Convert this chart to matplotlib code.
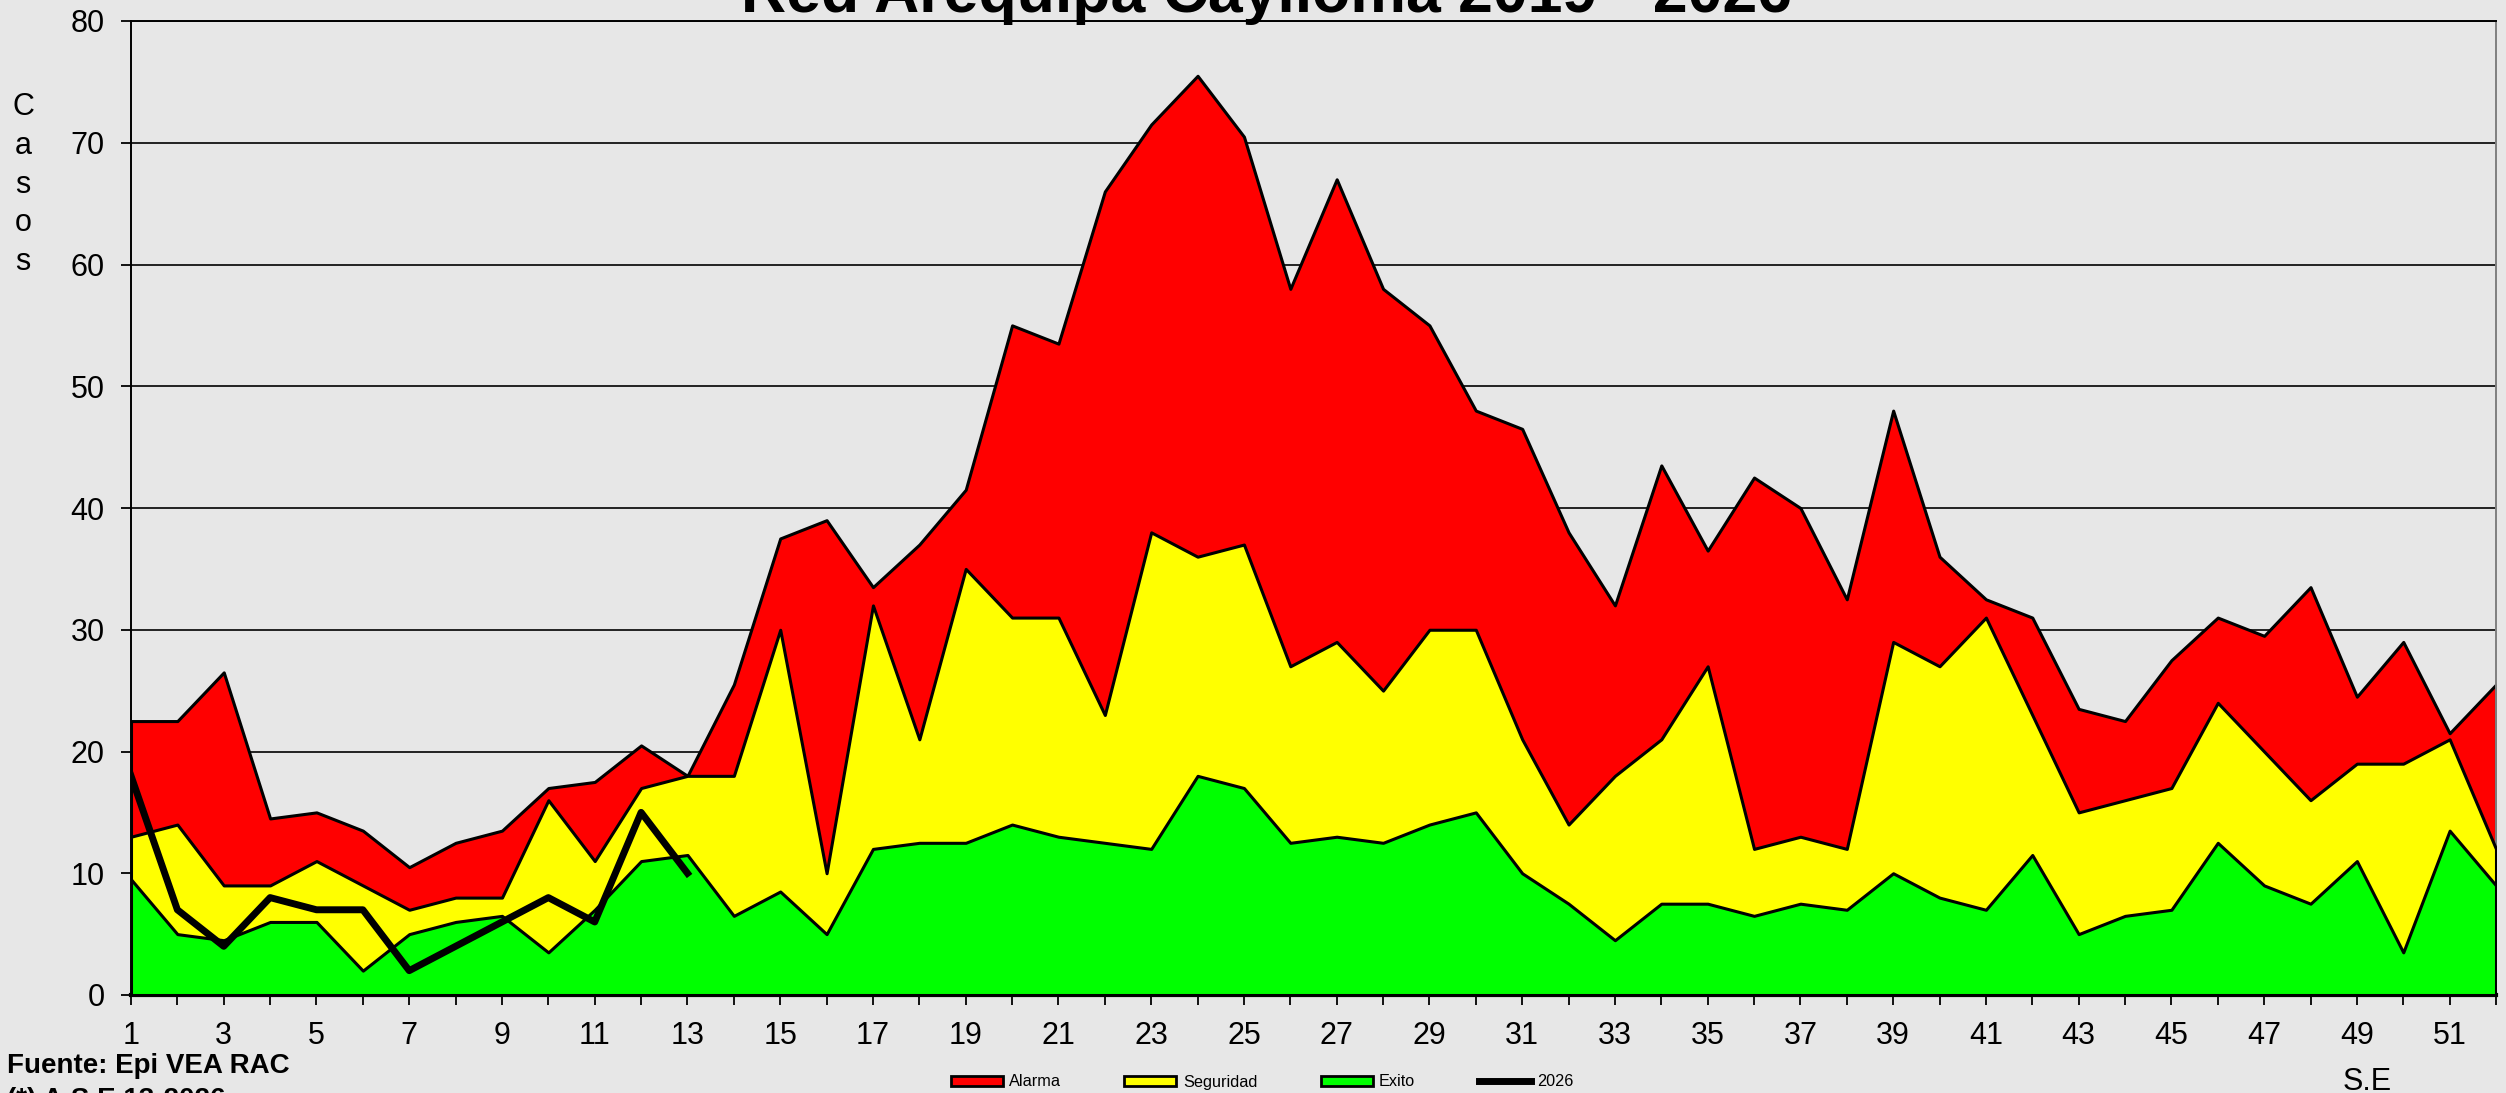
import matplotlib
matplotlib.use("Agg")
import matplotlib.pyplot as plt
from matplotlib.patches import Patch
from matplotlib.lines import Line2D

# epidemiological weeks
weeks = list(range(1, 53))

# corridor limits (2019 - 2025)
alarma = [22.5, 22.5, 26.5, 14.5, 15, 13.5, 10.5, 12.5, 13.5, 17, 17.5, 20.5, 18,
          25.5, 37.5, 39, 33.5, 37, 41.5, 55, 53.5, 66, 71.5, 75.5, 70.5, 58,
          67, 58, 55, 48, 46.5, 38, 32, 43.5, 36.5, 42.5, 40, 32.5, 48, 36,
          32.5, 31, 23.5, 22.5, 27.5, 31, 29.5, 33.5, 24.5, 29, 21.5, 25.5]
seguridad = [13, 14, 9, 9, 11, 9, 7, 8, 8, 16, 11, 17, 18,
             18, 30, 10, 32, 21, 35, 31, 31, 23, 38, 36, 37, 27,
             29, 25, 30, 30, 21, 14, 18, 21, 27, 12, 13, 12, 29, 27,
             31, 23, 15, 16, 17, 24, 20, 16, 19, 19, 21, 12]
exito = [9.5, 5, 4.5, 6, 6, 2, 5, 6, 6.5, 3.5, 7, 11, 11.5,
         6.5, 8.5, 5, 12, 12.5, 12.5, 14, 13, 12.5, 12, 18, 17, 12.5,
         13, 12.5, 14, 15, 10, 7.5, 4.5, 7.5, 7.5, 6.5, 7.5, 7, 10, 8,
         7, 11.5, 5, 6.5, 7, 12.5, 9, 7.5, 11, 3.5, 13.5, 9]

# current year, up to week 13
weeks_2026 = list(range(1, 14))
casos_2026 = [18, 7, 4, 8, 7, 7, 2, 4, 6, 8, 6, 15, 10]

BG = "#e7e7e7"
W, H = 2506, 1093

plt.rcParams["font.family"] = ["Liberation Sans", "DejaVu Sans"]

fig = plt.figure(figsize=(W / 100, H / 100), dpi=100, facecolor=BG)
ax = fig.add_axes([131 / W, 1 - 995 / H, (2496 - 131) / W, (995 - 21) / H])
ax.set_facecolor(BG)

# overlapping (not stacked) areas, drawn back to front
ax.fill_between(weeks, 0, alarma, facecolor="#ff0000", edgecolor="black", linewidth=2.2, zorder=2)
ax.fill_between(weeks, 0, seguridad, facecolor="#ffff00", edgecolor="black", linewidth=2.2, zorder=3)
ax.fill_between(weeks, 0, exito, facecolor="#00ff00", edgecolor="black", linewidth=2.2, zorder=4)
ax.plot(weeks_2026, casos_2026, color="black", linewidth=5, zorder=5)

ax.set_xlim(1, 52)
ax.set_ylim(0, 80)
ax.set_yticks(range(0, 81, 10))
ax.set_xticks(weeks)
ax.set_xticklabels([str(w) if w % 2 == 1 else "" for w in weeks])

ax.set_axisbelow(True)
ax.grid(axis="y", color="#222222", linewidth=1.4)
ax.grid(axis="x", visible=False)

ax.tick_params(axis="both", labelsize=22, length=7, width=1.3, direction="out", pad=12, colors="black")
for side in ["left", "top"]:
    ax.spines[side].set_color("black")
    ax.spines[side].set_linewidth(1.4)
ax.spines["right"].set_color("#808080")
ax.spines["right"].set_linewidth(1.4)
ax.spines["bottom"].set_color("black")
ax.spines["bottom"].set_linewidth(3)

# title (partly cut at the top, as in the original)
fig.text(1266 / W, 1 - 12 / H, "Red Arequipa Caylloma 2019 - 2026", ha="center", va="baseline",
         fontsize=45, fontweight="bold")

# vertical stacked y label
for i, ch in enumerate("Casos"):
    fig.text(23 / W, 1 - (107 + i * 38.8) / H, ch, ha="center", va="center", fontsize=22)

fig.text(2367 / W, 1 - 1082 / H, "S.E", ha="center", va="center", fontsize=22)

fig.text(7 / W, 1 - 1073 / H, "Fuente: Epi VEA RAC", ha="left", va="baseline",
         fontsize=20, fontweight="bold")
fig.text(7 / W, 1 - 1107 / H, "(*) A.S.E 13-2026", ha="left", va="baseline",
         fontsize=20, fontweight="bold")

handles = [
    Patch(facecolor="#ff0000", edgecolor="black", linewidth=2),
    Patch(facecolor="#ffff00", edgecolor="black", linewidth=2),
    Patch(facecolor="#00ff00", edgecolor="black", linewidth=2),
    Line2D([], [], color="black", linewidth=5),
]
fig.legend(handles, ["Alarma", "Seguridad", "Exito", "2026"], loc="center",
           bbox_to_anchor=(1262 / W, 1 - 1082 / H), ncol=4, frameon=False,
           fontsize=11.7, handlelength=3.2, handleheight=0.6, handletextpad=0.4,
           columnspacing=3.9, borderpad=0)

fig.savefig("out.png", dpi=100, facecolor=BG)
